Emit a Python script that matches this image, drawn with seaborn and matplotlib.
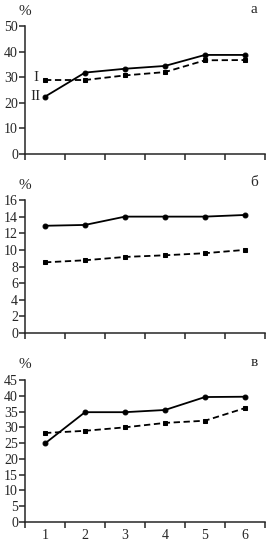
import matplotlib
matplotlib.use("Agg")
import matplotlib.pyplot as plt
import seaborn as sns
import numpy as np
import pandas as pd

sns.set_style("ticks")
plt.rcParams['font.family'] = ['Liberation Serif', 'DejaVu Serif']

x = [1, 2, 3, 4, 5, 6]
x_labels = ["1", "2", "3", "4", "5", "6"]

a_solid = [22.4, 31.8, 33.3, 34.4, 38.7, 38.7]
a_dashed = [28.9, 28.9, 30.7, 32.0, 36.6, 36.7]
b_solid = [12.9, 13.0, 14.0, 14.0, 14.0, 14.2]
b_dashed = [8.5, 8.75, 9.15, 9.35, 9.6, 10.0]
c_solid = [24.9, 34.8, 34.8, 35.5, 39.6, 39.7]
c_dashed = [28.2, 28.9, 30.0, 31.4, 32.1, 36.1]

panel_letters = ["а", "б", "в"]
y_tops = [50, 16, 45]
y_steps = [10, 2, 5]

W, H = 269, 542
fig = plt.figure(figsize=(W / 100, H / 100), dpi=100)

# axes boxes in pixels: (left, top, right, bottom)
boxes = [(25, 26, 265, 154), (25, 200, 265, 333), (25, 380, 265, 522)]
data = [(a_solid, a_dashed), (b_solid, b_dashed), (c_solid, c_dashed)]

for i, (box, (sol, das)) in enumerate(zip(boxes, data)):
    l, t, r, b = box
    ax = fig.add_axes([l / W, 1 - b / H, (r - l) / W, (b - t) / H])
    sns.lineplot(x=x, y=das, ax=ax, color="black", marker="s", markersize=3.5,
                 linewidth=1.3, linestyle=(0, (3.5, 2)), markeredgecolor="black")
    sns.lineplot(x=x, y=sol, ax=ax, color="black", marker="o", markersize=3.5,
                 linewidth=1.3, markeredgecolor="black")
    ax.set_xlim(0.5, 6.5)
    ax.set_ylim(0, y_tops[i])
    ax.set_yticks(np.arange(0, y_tops[i] + 0.01, y_steps[i]))
    ax.set_xticks(x)
    ax.set_xticks(np.arange(0.5, 6.6, 1.0), minor=True)
    if i == 2:
        ax.set_xticklabels(x_labels)
    else:
        ax.set_xticklabels([])
    ax.tick_params(axis="x", which="major", length=0, labelsize=10, pad=5)
    ax.tick_params(axis="x", which="minor", length=4, width=1.1, direction="out")
    ax.tick_params(axis="y", length=4, width=1.1, labelsize=10, pad=1)
    for s in ["top", "right"]:
        ax.spines[s].set_visible(False)
    for s in ["left", "bottom"]:
        ax.spines[s].set_linewidth(1.1)
    ax.set_xlabel("")
    ax.set_ylabel("")
    ax.text(0.0, 1.06, "%", transform=ax.transAxes, fontsize=11,
            ha="center", va="bottom")
    ax.text(0.955, 1.08, panel_letters[i], transform=ax.transAxes, fontsize=11,
            ha="center", va="bottom")
    if i == 0:
        ax.text(0.84, 29.7, "I", fontsize=11, ha="right", va="center")
        ax.text(0.9, 22.3, "II", fontsize=11, ha="right", va="center")

fig.savefig("out.png", dpi=100)
